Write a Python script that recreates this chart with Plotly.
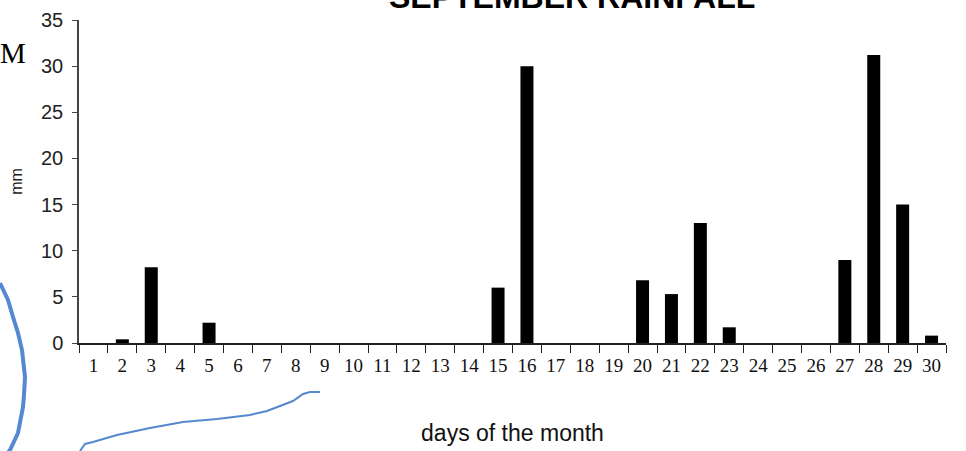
import plotly.graph_objects as go

days = [str(d) for d in range(1, 31)]
rainfall = [0, 0.4, 8.2, 0, 2.2, 0, 0, 0, 0, 0, 0, 0, 0, 0, 6.0, 30.0,
            0, 0, 0, 6.8, 5.3, 13.0, 1.7, 0, 0, 0, 9.0, 31.2, 15.0, 0.8]
y_ticks = [0, 5, 10, 15, 20, 25, 30, 35]

W, H = 966, 451
ML, MR, MT, MB = 79, 20, 20, 108
PW, PH = W - ML - MR, H - MT - MB


def px(x):
    return (x - ML) / PW


def py(y):
    return (H - MB - y) / PH


def path(points):
    return "M " + " L ".join(f"{px(x):.5f},{py(y):.5f}" for x, y in points)


left_curve = [(0, 283), (8, 300), (13, 317), (18, 333), (22, 350), (25, 377),
              (24, 395), (23, 407), (18, 433), (10, 450), (6, 455)]
bottom_curve = [(80, 451), (85, 444), (93, 442), (117, 435), (150, 428), (183, 422),
                (217, 419), (250, 415), (267, 411), (293, 401), (303, 394),
                (310, 392), (320, 392)]

fig = go.Figure(go.Bar(x=days, y=rainfall, marker=dict(color="black", line=dict(width=0)),
                       width=0.45))

fig.update_layout(
    width=W, height=H,
    margin=dict(l=ML, r=MR, t=MT, b=MB, autoexpand=False),
    paper_bgcolor="white", plot_bgcolor="white",
    showlegend=False,
    xaxis=dict(
        type="category", showgrid=False, showline=True, linecolor="#222", linewidth=1.5,
        ticks="outside", tickson="boundaries", ticklen=8, tickcolor="#222", tickwidth=1,
        ticklabelstandoff=4,
        tickfont=dict(family="Liberation Serif, Times New Roman, serif", size=19, color="#111"),
        title=dict(text="days of the month", standoff=50,
                   font=dict(family="Liberation Sans Narrow, Liberation Sans, Arial", size=23, color="#111")),
        range=[-0.5, 29.5], automargin=False,
    ),
    yaxis=dict(
        range=[0, 35], tickvals=y_ticks, showgrid=False, zeroline=False,
        showline=True, linecolor="#444", linewidth=1.5,
        ticks="outside", ticklen=5, tickcolor="#444",
        ticklabelstandoff=5,
        tickfont=dict(family="Liberation Sans Narrow, Liberation Sans, Arial", size=20, color="#222"),
        title=dict(text="mm", standoff=14,
                   font=dict(family="Liberation Sans, Arial", size=16, color="#222")),
        automargin=False,
    ),
    annotations=[
        dict(text="<b>SEPTEMBER RAINFALL</b>", xref="paper", yref="paper",
             x=px(572), y=py(-3), xanchor="center", yanchor="middle", showarrow=False,
             font=dict(family="Liberation Sans, Arial", size=32, color="black")),
        dict(text="M", xref="paper", yref="paper", x=px(-2), y=py(53),
             xanchor="left", yanchor="middle", showarrow=False,
             font=dict(family="Liberation Serif, Times New Roman, serif", size=29, color="black")),
    ],
    shapes=[
        dict(type="path", xref="paper", yref="paper", path=path(left_curve),
             line=dict(color="#5588d0", width=4)),
        dict(type="path", xref="paper", yref="paper", path=path(bottom_curve),
             line=dict(color="#5588d0", width=2)),
    ],
)

fig.write_html("out.html", config={"displayModeBar": False},
               post_script="document.body.style.margin='0';document.body.style.overflow='hidden';")
